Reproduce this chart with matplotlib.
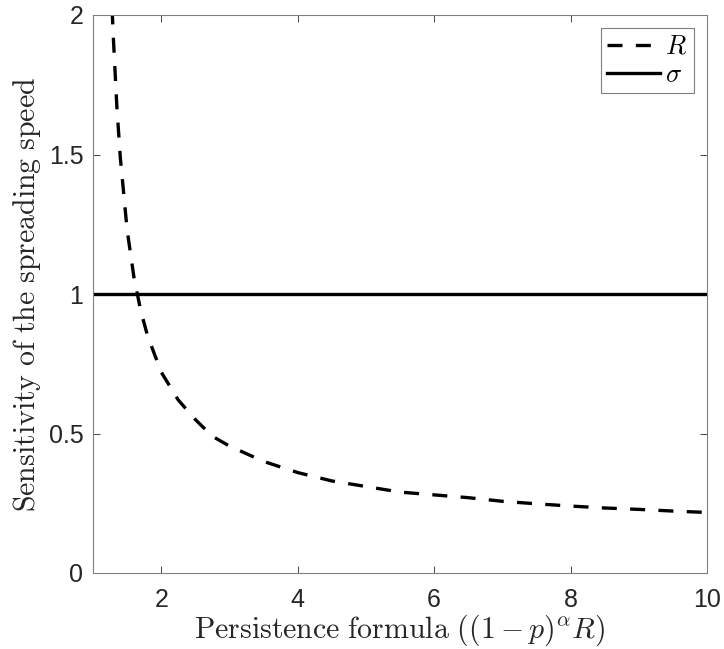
import numpy as np
import matplotlib; matplotlib.use('Agg'); import matplotlib.pyplot as plt

plt.rcParams['mathtext.fontset'] = 'cm'
plt.rcParams['font.family'] = ['Liberation Sans', 'DejaVu Sans']

# dashed curve: sensitivity w.r.t. R
x_R = [1.28, 1.30, 1.35, 1.40, 1.50, 1.60, 1.70, 1.80, 2.00, 2.25, 2.50, 2.75, 3.00,
       3.50, 4.00, 4.50, 5.00, 5.50, 6.00, 6.50, 7.00, 7.50, 8.00, 8.50, 9.00, 9.50, 10.0]
y_R = [2.02, 1.91, 1.67, 1.49, 1.23, 1.06, 0.94, 0.85, 0.72, 0.62, 0.55, 0.49, 0.455,
       0.40, 0.36, 0.33, 0.31, 0.29, 0.28, 0.27, 0.257, 0.248, 0.24, 0.233, 0.228, 0.222, 0.217]
# solid line: sensitivity w.r.t. sigma
x_sig = [1.0, 10.0]
y_sig = [1.0, 1.0]

fig = plt.figure(figsize=(7.24, 6.49), dpi=100)
ax = fig.add_axes([93/724, 76/649, 614/724, 558/649])

ax.plot(x_R, y_R, color='black', lw=2.4, linestyle=(0, (4.5, 4.0)), label='$R$')
ax.plot(x_sig, y_sig, color='black', lw=2.4, label=r'$\sigma$')

ax.set_xlim(1, 10); ax.set_ylim(0, 2)
ax.set_xticks([2, 4, 6, 8, 10])
ax.set_yticks([0, 0.5, 1, 1.5, 2])
ax.set_yticklabels(['0', '0.5', '1', '1.5', '2'])
ax.tick_params(direction='in', top=True, right=True, labelsize=18, colors='#262626', length=5, width=0.6)
ax.tick_params(axis='x', pad=11)
ax.tick_params(axis='y', pad=7)
for s in ax.spines.values():
    s.set_color('#808080'); s.set_linewidth(0.8)

ax.set_xlabel(r'$\mathrm{Persistence\ formula}\ ((1-p)^{\alpha}R)$', fontsize=21.5, color='#262626', labelpad=0)
ax.set_ylabel(r'$\mathrm{Sensitivity\ of\ the\ spreading\ speed}$', fontsize=21.5, color='#262626', labelpad=4)

leg = ax.legend(loc='upper right', fontsize=19, handlelength=2.0, fancybox=False, framealpha=1,
                edgecolor='#808080', borderpad=0.25, labelspacing=0.15, handletextpad=0.2,
                borderaxespad=0.5)
leg.get_frame().set_linewidth(0.8)

plt.savefig('out.png', dpi=100)
plt.close()
